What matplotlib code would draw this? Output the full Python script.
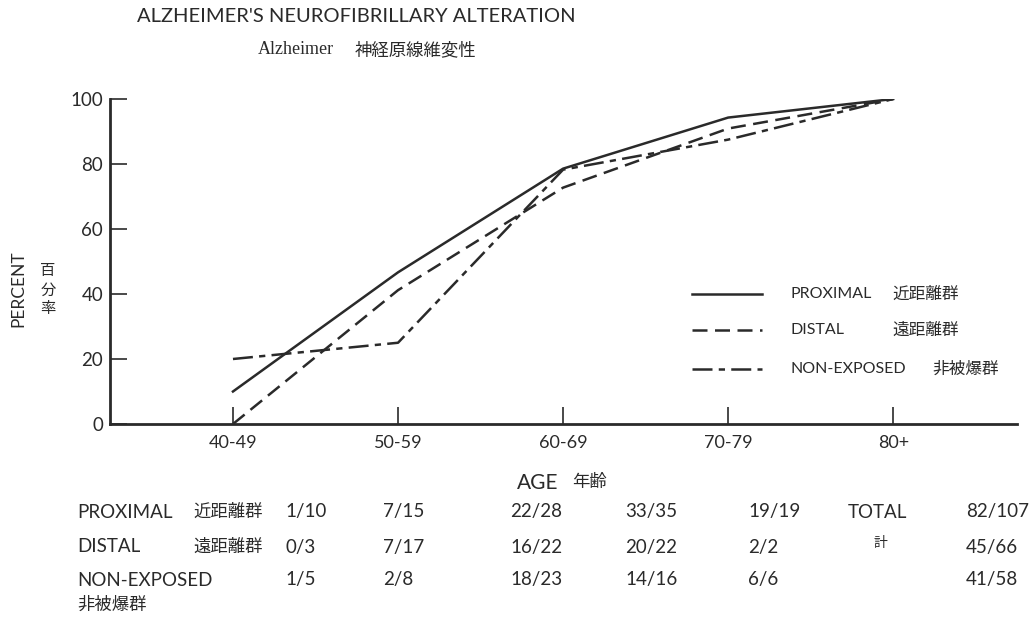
import matplotlib.pyplot as plt

plt.rcParams['font.family'] = ['Lato', 'Noto Sans CJK JP', 'DejaVu Sans']

ages = ['40-49', '50-59', '60-69', '70-79', '80+']

# affected / examined for each age group
proximal_n = [1, 7, 22, 33, 19]
proximal_d = [10, 15, 28, 35, 19]
distal_n = [0, 7, 16, 20, 2]
distal_d = [3, 17, 22, 22, 2]
nonexp_n = [1, 2, 18, 14, 6]
nonexp_d = [5, 8, 23, 16, 6]

totals = ['82/107', '45/66', '41/58']
yticks = [0, 20, 40, 60, 80, 100]

ink = '#2a2a2a'
W, H = 1032, 618
JP = 'Noto Sans CJK JP'

solid = '-'
dashed = (0, (6, 3))
dashdot = (0, (8, 2.5, 2.5, 2.5))


def pct(n, d):
    return [100.0 * a / b for a, b in zip(n, d)]


def ftext(x, y, s, **kw):
    # place text in pixel coordinates measured from the top left
    kw.setdefault('color', ink)
    kw.setdefault('va', 'center')
    fig.text(x / W, 1 - y / H, s, **kw)


fig = plt.figure(figsize=(W / 100, H / 100), dpi=100)
ax = fig.add_axes([110 / W, 1 - 424 / H, (1017 - 110) / W, (424 - 99) / H])

xs = range(len(ages))
ax.plot(xs, pct(proximal_n, proximal_d), color=ink, lw=1.8, ls=solid)
ax.plot(xs, pct(distal_n, distal_d), color=ink, lw=1.8, ls=dashed)
ax.plot(xs, pct(nonexp_n, nonexp_d), color=ink, lw=1.8, ls=dashdot)

ax.set_xlim(-0.745, 4.75)
ax.set_ylim(0, 100)
ax.set_xticks(list(xs))
ax.set_xticklabels(ages, fontsize=13, color=ink)
ax.set_yticks(yticks)
ax.set_yticklabels([str(v) for v in yticks], fontsize=13.5, color=ink)
ax.tick_params(axis='both', direction='in', length=12, width=1.2, color=ink)
ax.tick_params(axis='y', pad=5)
ax.tick_params(axis='x', pad=8)
for side in ['top', 'right']:
    ax.spines[side].set_visible(False)
for side in ['left', 'bottom']:
    ax.spines[side].set_linewidth(2)
    ax.spines[side].set_color(ink)

# legend drawn by hand
leg_styles = [solid, dashed, dashdot]
leg_en = ['PROXIMAL', 'DISTAL', 'NON-EXPOSED']
leg_jp = ['近距離群', '遠距離群', '非被爆群']
leg_jx = [892, 892, 932]
leg_y = [294, 330, 369]
for st, en, jp, jx, y in zip(leg_styles, leg_en, leg_jp, leg_jx, leg_y):
    fig.add_artist(plt.Line2D([692 / W, 762 / W], [1 - y / H, 1 - y / H],
                              color=ink, lw=1.8, ls=st))
    ftext(790, y, en, fontsize=11.5)
    ftext(jx, y, jp, fontsize=12, family=JP)

# titles and axis titles
ftext(137, 16, "ALZHEIMER'S NEUROFIBRILLARY ALTERATION", fontsize=14.5)
ftext(258, 50, 'Alzheimer', fontsize=13, family=['Liberation Serif', JP])
ftext(355, 50, '神経原線維変性', fontsize=12.5, family=JP)
ftext(18, 289, 'PERCENT', fontsize=12.5, rotation=90, ha='center')
for k, ch in enumerate('百分率'):
    ftext(48, 271 + k * 19, ch, fontsize=11, ha='center', family=JP)
ftext(517, 483, 'AGE', fontsize=15)
ftext(572, 482, '年齢', fontsize=12.5, family=JP)

# counts table
rows = [(proximal_n, proximal_d), (distal_n, distal_d), (nonexp_n, nonexp_d)]
col_x = [285, 383, 510, 625, 748]
row_y = [512, 547, 580]
ftext(77, row_y[0], 'PROXIMAL', fontsize=13.5)
ftext(77, row_y[1], 'DISTAL', fontsize=13.5)
ftext(77, row_y[2], 'NON-EXPOSED', fontsize=13.5)
ftext(193, row_y[0], '近距離群', fontsize=12.5, family=JP)
ftext(193, row_y[1], '遠距離群', fontsize=12.5, family=JP)
ftext(77, 605, '非被爆群', fontsize=12.5, family=JP)
for (n, d), y in zip(rows, row_y):
    for a, b, x in zip(n, d, col_x):
        ftext(x, y, f'{a}/{b}', fontsize=13.5)
ftext(848, row_y[0], 'TOTAL', fontsize=13.5)
ftext(880, 543, '計', fontsize=10, family=JP, ha='center')
for t, y in zip(totals, row_y):
    ftext(966, y, t, fontsize=13.5)

fig.savefig('out.png', dpi=100, facecolor='white')
